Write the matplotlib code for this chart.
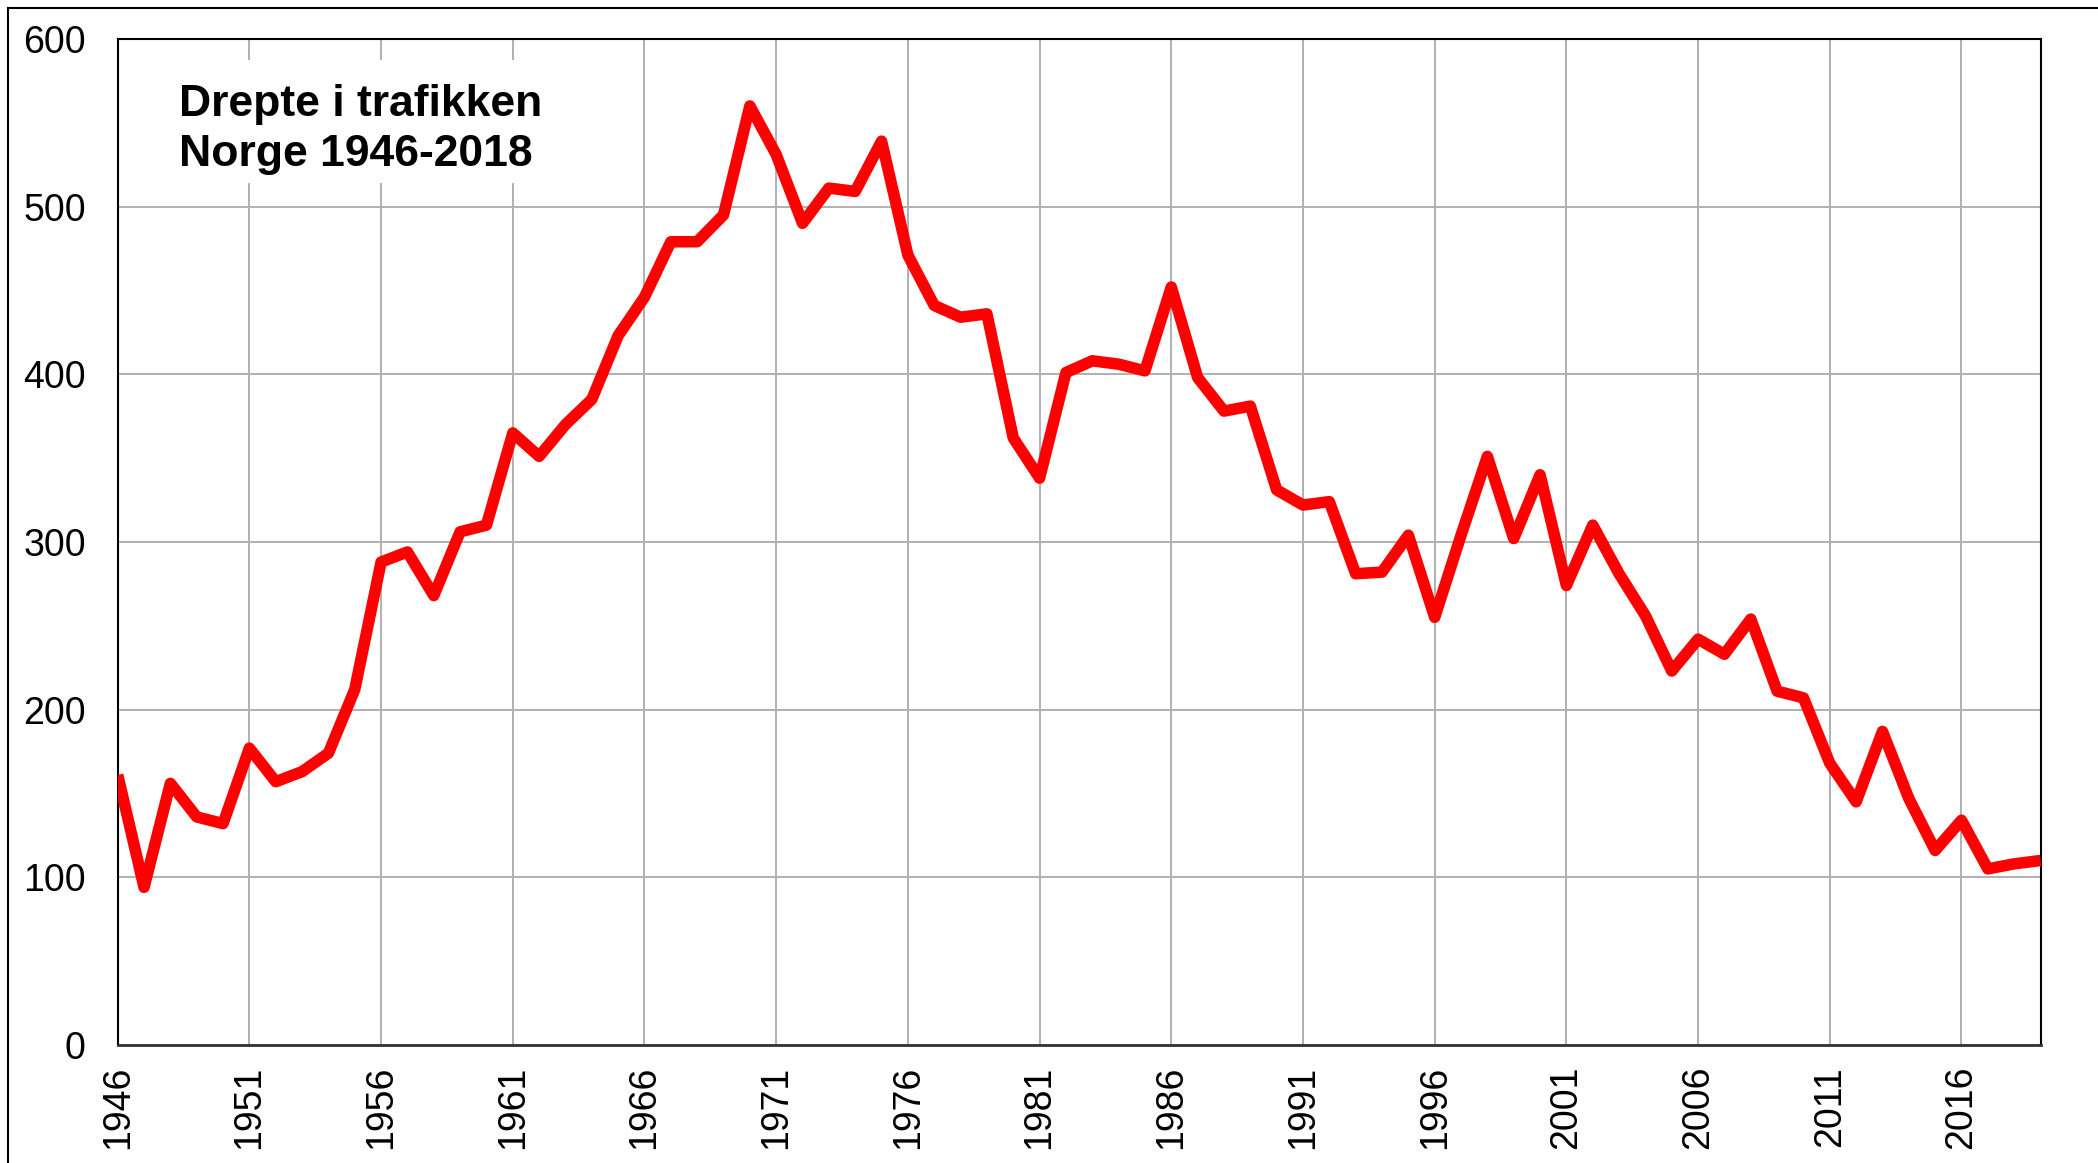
import matplotlib
matplotlib.use("Agg")
import matplotlib.pyplot as plt
from matplotlib.lines import Line2D
from matplotlib.patches import Rectangle

years = list(range(1946, 2020))
deaths = [161, 94, 156, 136, 132, 177, 157, 163, 174, 212,
          288, 294, 268, 306, 310, 365, 351, 370, 385, 423,
          446, 479, 479, 495, 560, 531, 490, 511, 509, 539,
          471, 441, 434, 436, 362, 338, 401, 408, 406, 402,
          452, 398, 378, 381, 331, 322, 324, 281, 282, 304,
          255, 304, 351, 302, 340, 274, 310, 281, 256, 223,
          242, 233, 254, 211, 207, 168, 145, 187, 147, 116,
          134, 105, 108, 110]
xtick_years = list(range(1946, 2020, 5))
yticks = [0, 100, 200, 300, 400, 500, 600]
title_lines = ["Drepte i trafikken", "Norge 1946-2018"]

plt.rcParams['font.family'] = ['Liberation Sans', 'DejaVu Sans']

fig = plt.figure(figsize=(20.98, 11.63), dpi=100)
ax = fig.add_axes([0.0561, 0.1015, 0.9726 - 0.0561, 0.9666 - 0.1015])

ax.plot(years, deaths, color='#ff0000', linewidth=8.3, solid_joinstyle='round',
        solid_capstyle='butt', zorder=3)

ax.set_xlim(1946, 2019)
ax.set_ylim(0, 600)
ax.set_xticks(xtick_years)
ax.set_xticklabels([str(y) for y in xtick_years], rotation=90, fontsize=27)
ax.set_yticks(yticks)
ax.set_yticklabels([str(v) for v in yticks], fontsize=27)
ax.tick_params(axis='both', length=0)
ax.tick_params(axis='y', pad=23)
ax.tick_params(axis='x', pad=15)
ax.grid(True, color='#b0b0b0', linewidth=1.4, zorder=0)
ax.set_axisbelow(True)
for side in ['left', 'top', 'right']:
    ax.spines[side].set_color('black')
    ax.spines[side].set_linewidth(1.5)
ax.spines['bottom'].set_color('#333333')
ax.spines['bottom'].set_linewidth(2)

# white box behind the title
ax.add_patch(Rectangle((0.0257, 0.857), 0.2254 - 0.0257, 0.979 - 0.857,
                       transform=ax.transAxes, facecolor='white', edgecolor='none', zorder=2))
ax.text(0.0319, 0.923, title_lines[0], transform=ax.transAxes, fontsize=32,
        fontweight='bold', va='baseline', ha='left', zorder=4)
ax.text(0.0319, 0.874, title_lines[1], transform=ax.transAxes, fontsize=32,
        fontweight='bold', va='baseline', ha='left', zorder=4)

# outer frame (left and top edges visible)
fig.add_artist(Line2D([8/2098, 8/2098], [0, 1 - 8/1163], color='black', linewidth=1.5,
                      transform=fig.transFigure))
fig.add_artist(Line2D([8/2098, 1], [1 - 8/1163, 1 - 8/1163], color='black', linewidth=1.5,
                      transform=fig.transFigure))

fig.savefig("out.png", dpi=100, facecolor='white')
